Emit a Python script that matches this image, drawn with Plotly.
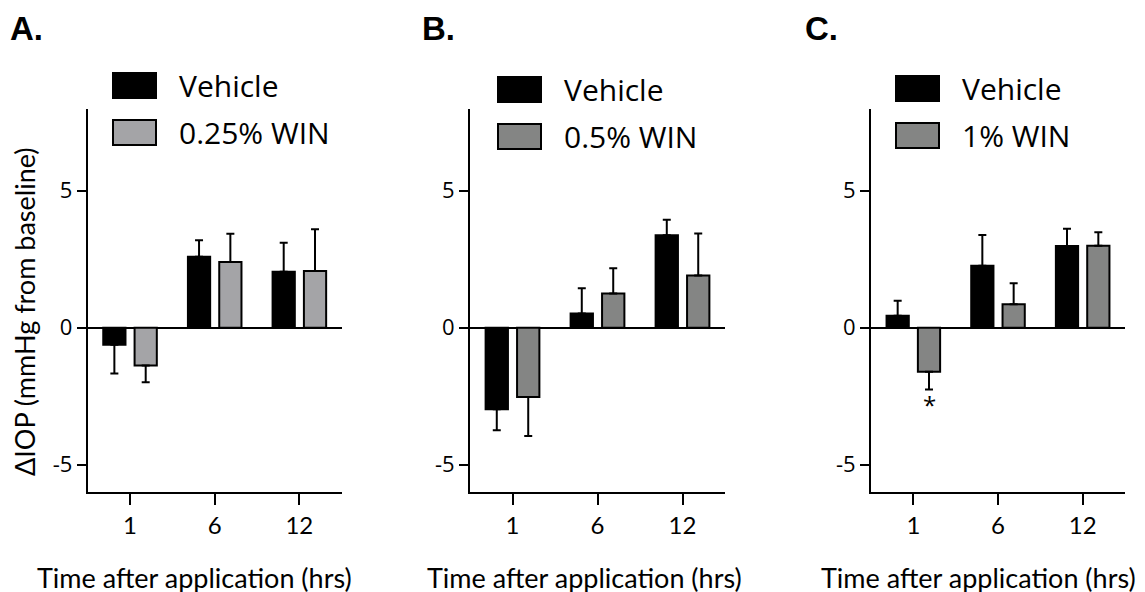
import plotly.graph_objects as go

# ---- data ----
time_labels = ["1", "6", "12"]
x_idx = [0, 1, 2]

panel_letters = ["A.", "B.", "C."]
win_labels = ["0.25% WIN", "0.5% WIN", "1% WIN"]

vehicle_a = [-0.62, 2.59, 2.04]
vehicle_a_err = [1.05, 0.60, 1.06]
win_a = [-1.38, 2.40, 2.07]
win_a_err = [0.61, 1.03, 1.52]

vehicle_b = [-2.98, 0.52, 3.37]
vehicle_b_err = [0.77, 0.92, 0.57]
win_b = [-2.53, 1.25, 1.90]
win_b_err = [1.43, 0.92, 1.54]

vehicle_c = [0.43, 2.26, 2.98]
vehicle_c_err = [0.55, 1.12, 0.63]
win_c = [-1.61, 0.85, 2.99]
win_c_err = [0.65, 0.77, 0.49]

sig_value = -2.82  # position of the asterisk under 1% WIN at 1 h

W, H = 1145, 592
OFF = 8  # page body margin
def px(x):
    return (x - OFF) / W
def py(y):
    return 1 - (y - OFF) / H

vehicle_color = "#000000"
win_colors = ["#a4a4a7", "#848584", "#848584"]

panels = [
    (vehicle_a, vehicle_a_err, win_a, win_a_err),
    (vehicle_b, vehicle_b_err, win_b, win_b_err),
    (vehicle_c, vehicle_c_err, win_c, win_c_err),
]

x_domains = [(87.7, 341.7), (470, 725), (871, 1125)]
y_domain = [py(492), py(108.5)]

fig = go.Figure()

def err_dict(vals, errs):
    up = [e if v >= 0 else 0 for v, e in zip(vals, errs)]
    down = [e if v < 0 else 0 for v, e in zip(vals, errs)]
    return dict(type="data", symmetric=False, array=up, arrayminus=down,
                color="black", thickness=2, width=4)

for i, (veh, veh_e, win, win_e) in enumerate(panels):
    xa = "x" if i == 0 else f"x{i+1}"
    ya = "y" if i == 0 else f"y{i+1}"
    fig.add_trace(go.Bar(x=x_idx, y=veh, name="Vehicle", xaxis=xa, yaxis=ya,
                         marker=dict(color=vehicle_color, line=dict(color="black", width=2)),
                         error_y=err_dict(veh, veh_e), showlegend=False))
    fig.add_trace(go.Bar(x=x_idx, y=win, name=win_labels[i], xaxis=xa, yaxis=ya,
                         marker=dict(color=win_colors[i], line=dict(color="black", width=2)),
                         error_y=err_dict(win, win_e), showlegend=False))

layout = dict(
    width=W, height=H, margin=dict(l=0, r=0, t=0, b=0),
    paper_bgcolor="white", plot_bgcolor="white",
    barmode="group", bargap=0.26, bargroupgap=0.29,
    showlegend=False,
)

for i in range(3):
    xk = "xaxis" if i == 0 else f"xaxis{i+1}"
    yk = "yaxis" if i == 0 else f"yaxis{i+1}"
    ya = "y" if i == 0 else f"y{i+1}"
    xa = "x" if i == 0 else f"x{i+1}"
    d0, d1 = x_domains[i]
    layout[xk] = dict(
        domain=[px(d0), px(d1)], anchor=ya, range=[-0.5, 2.5],
        tickmode="array", tickvals=x_idx, ticktext=time_labels,
        showline=True, linecolor="black", linewidth=2,
        ticks="outside", ticklen=11, tickwidth=2, tickcolor="black",
        showgrid=False, zeroline=False, ticklabelstandoff=0,
        tickfont=dict(family="Lato", size=24, color="black"),
    )
    layout[yk] = dict(
        domain=y_domain, anchor=xa, range=[-6, 8],
        tickmode="array", tickvals=[-5, 0, 5], ticktext=["-5", "0", "5"],
        showline=True, linecolor="black", linewidth=2,
        ticks="outside", ticklen=9, tickwidth=2, tickcolor="black",
        showgrid=False, zeroline=True, zerolinecolor="black", zerolinewidth=2,
        tickfont=dict(family="Open Sans", size=22, color="black"),
    )

fig.update_layout(**layout)

annotations = []
shapes = []

# panel letters
letter_x = [9, 421, 804]
for i, lt in enumerate(panel_letters):
    annotations.append(dict(x=px(letter_x[i]), y=py(OFF + 1), xref="paper", yref="paper",
                            text=f"<b>{lt}</b>", showarrow=False, xanchor="left", yanchor="top",
                            borderpad=0,
                            font=dict(family="Liberation Sans", size=33, color="black")))

# legends
legend_box_left = [113, 498, 896]
legend_top = [73, 77, 76]
box_w, box_h, row_gap = 43, 25, 47
for i in range(3):
    x0 = legend_box_left[i]
    for r, (lab, col) in enumerate([("Vehicle", vehicle_color), (win_labels[i], win_colors[i])]):
        y0 = legend_top[i] + r * row_gap
        shapes.append(dict(type="rect", xref="paper", yref="paper",
                           x0=px(x0), x1=px(x0 + box_w), y0=py(y0), y1=py(y0 + box_h),
                           fillcolor=col, line=dict(color="black", width=2)))
        annotations.append(dict(x=px(x0 + 64), y=py(y0 + box_h / 2), xref="paper", yref="paper",
                                text=lab, showarrow=False, xanchor="left", yanchor="middle",
                                font=dict(family="Open Sans", size=30, color="black")))

# x titles
title_cx = [195, 584, 978]
for i in range(3):
    annotations.append(dict(x=px(title_cx[i]), y=py(577), xref="paper", yref="paper",
                            text="Time after application (hrs)", showarrow=False,
                            xanchor="center", yanchor="middle",
                            font=dict(family="Lato", size=27, color="black")))

# y title
annotations.append(dict(x=px(24), y=py(312), xref="paper", yref="paper",
                        text="ΔIOP (mmHg from baseline)", showarrow=False, textangle=-90,
                        xanchor="center", yanchor="middle",
                        font=dict(family="Lato", size=27, color="black")))

# significance asterisk
annotations.append(dict(x=x_idx[0] + 0.185, y=sig_value, xref="x3", yref="y3",
                        text="*", showarrow=False, xanchor="center", yanchor="middle",
                        font=dict(family="Open Sans", size=24, color="black")))

fig.update_layout(annotations=annotations, shapes=shapes)

fig.write_html("out.html")
